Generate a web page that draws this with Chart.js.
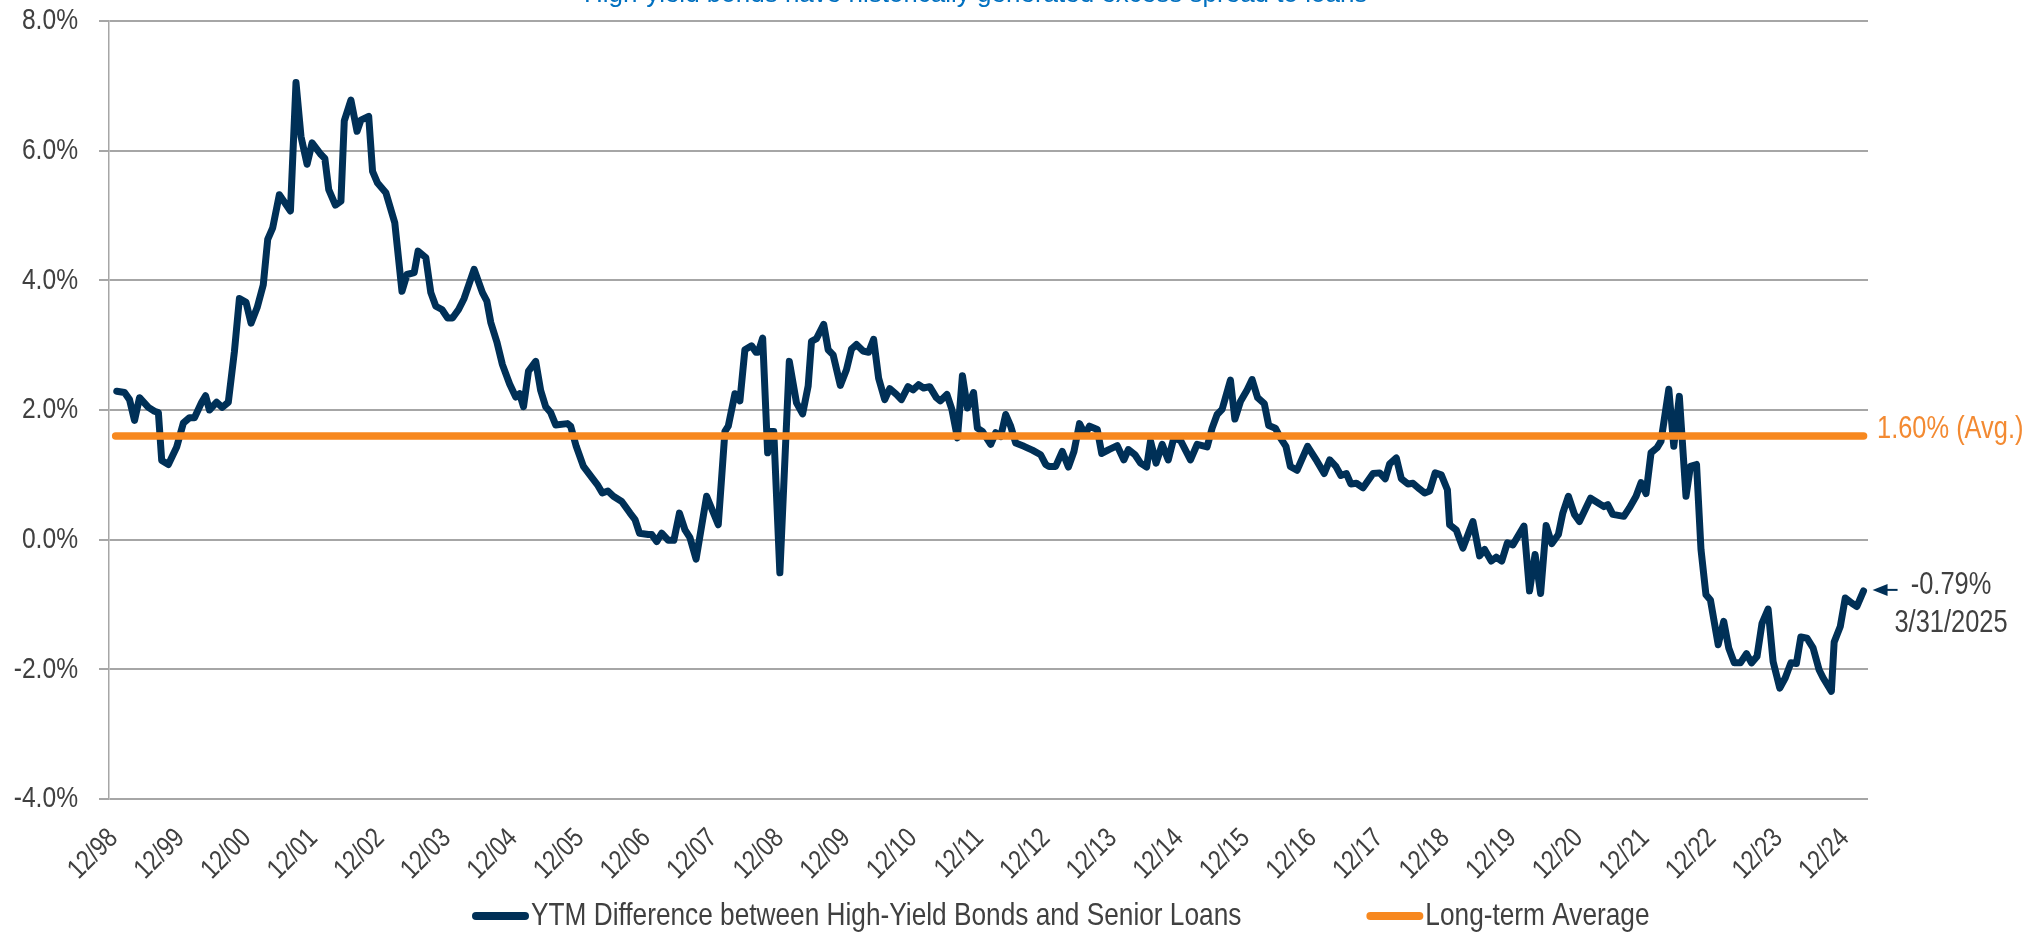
<!DOCTYPE html>
<html>
<head>
<meta charset="utf-8">
<title>YTM Difference between High-Yield Bonds and Senior Loans</title>
<script src="https://cdn.jsdelivr.net/npm/chart.js@4.4.1/dist/chart.umd.min.js"></script>
<style>
  html, body { margin:0; padding:0; background:#fff; }
  #wrap { width:2030px; height:934px; position:relative; }
</style>
</head>
<body>
<div id="wrap"><canvas id="spreadChart"></canvas></div>
<script>
// ── Data ────────────────────────────────────────────────────────────────────
// months after December 1998, and HY minus senior loan YTM (%)
const months = [
  0.2,1.6,2.5,3.4,4.3,5.9,7.0,7.7,8.3,9.5,11.0,12.2,13.3,14.2,15.5,16.2,16.9,18.2,19.2,20.3,
  21.4,22.3,23.5,24.4,25.5,26.6,27.4,28.3,29.5,31.5,32.5,33.4,34.5,35.4,37.0,37.7,38.4,39.6,40.6,41.2,
  42.4,43.5,44.2,45.6,46.3,47.2,48.7,50.3,51.6,52.5,53.8,54.5,55.9,56.8,57.7,58.8,59.8,60.7,61.8,62.8,
  64.6,66.1,66.9,67.6,68.7,69.7,71.0,72.1,72.8,73.5,74.4,75.7,76.6,77.5,78.4,79.3,81.4,82.0,83.0,84.3,
  85.9,86.8,87.7,88.7,89.7,91.2,92.7,93.6,94.4,96.0,96.6,97.5,98.4,99.6,100.6,101.6,102.6,103.5,104.6,106.5,
  108.6,109.8,110.4,111.6,112.5,113.4,114.6,115.4,115.8,116.6,117.5,117.9,118.6,119.7,121.4,122.7,123.8,124.8,125.4,126.3,
  127.6,128.4,129.3,130.6,131.7,132.6,133.5,134.7,135.7,136.6,137.5,138.6,139.5,140.7,141.6,142.8,143.7,144.7,145.6,146.7,
  147.9,148.6,149.8,150.7,151.7,152.6,153.5,154.6,155.3,156.2,157.7,158.6,159.5,160.4,161.3,162.2,163.7,165.2,166.7,167.6,
  168.2,169.4,170.6,171.7,172.7,173.7,174.7,175.5,176.9,177.7,179.0,180.5,181.7,182.5,183.7,184.7,185.8,186.5,187.5,188.6,
  189.7,190.7,191.9,193.7,194.9,196.7,197.6,198.5,199.4,200.9,201.7,202.7,203.9,204.8,205.8,207.0,207.8,209.0,209.9,210.9,
  211.7,212.9,214.8,216.5,217.8,218.8,219.9,220.8,221.8,222.6,223.6,224.8,226.6,227.8,228.8,229.6,230.8,231.7,232.9,233.8,
  235.0,235.9,236.8,237.8,238.9,240.0,240.4,241.6,242.8,244.6,245.8,246.7,247.9,248.8,249.8,250.8,251.8,253.8,254.8,255.8,
  256.8,257.8,258.8,260.0,260.8,261.8,262.9,263.8,265.8,267.1,268.2,268.9,269.8,271.8,272.8,274.0,274.9,275.8,276.7,277.8,
  278.5,279.9,280.8,281.8,283.0,283.8,284.9,285.7,286.6,287.4,288.8,289.8,290.7,291.7,292.8,293.9,294.8,295.8,296.7,297.8,
  298.7,299.9,300.9,301.9,302.9,303.7,304.8,305.9,307.0,307.7,309.2,309.7,310.8,311.7,312.9,313.8,315.0
];
const spread = [
  2.29,2.27,2.16,1.84,2.19,2.04,1.98,1.96,1.22,1.16,1.43,1.80,1.88,1.88,2.12,2.22,2.00,2.12,2.04,2.12,
  2.90,3.72,3.66,3.34,3.58,3.93,4.63,4.81,5.32,5.07,7.05,6.22,5.79,6.12,5.94,5.88,5.40,5.16,5.22,6.46,
  6.78,6.30,6.47,6.53,5.68,5.50,5.35,4.89,3.83,4.09,4.12,4.45,4.35,3.81,3.60,3.55,3.42,3.42,3.55,3.72,
  4.17,3.81,3.68,3.35,3.05,2.70,2.40,2.20,2.25,2.05,2.60,2.75,2.30,2.05,1.96,1.77,1.79,1.75,1.44,1.13,
  0.95,0.85,0.72,0.75,0.67,0.59,0.41,0.31,0.10,0.08,0.08,-0.03,0.10,-0.01,-0.01,0.41,0.15,0.03,-0.30,0.67,
  0.23,1.67,1.75,2.25,2.14,2.93,2.99,2.89,2.89,3.11,1.34,1.67,1.67,-0.51,2.75,2.11,1.94,2.37,3.06,3.10,
  3.32,2.93,2.85,2.38,2.62,2.94,3.01,2.91,2.89,3.09,2.49,2.16,2.33,2.24,2.16,2.36,2.31,2.39,2.34,2.36,
  2.19,2.14,2.24,2.01,1.57,2.53,2.03,2.27,1.72,1.67,1.47,1.65,1.59,1.93,1.75,1.49,1.44,1.38,1.31,1.16,
  1.13,1.13,1.36,1.12,1.36,1.79,1.62,1.75,1.70,1.33,1.39,1.45,1.23,1.39,1.31,1.18,1.12,1.52,1.18,1.47,
  1.23,1.57,1.53,1.23,1.47,1.43,1.72,1.93,2.01,2.46,1.86,2.13,2.31,2.47,2.19,2.10,1.76,1.72,1.57,1.44,
  1.13,1.07,1.44,1.21,1.02,1.23,1.13,0.99,1.02,0.86,0.87,0.80,1.02,1.03,0.94,1.17,1.26,0.94,0.86,0.87,
  0.78,0.72,0.75,1.03,1.00,0.77,0.23,0.15,-0.13,0.28,-0.25,-0.15,-0.33,-0.27,-0.33,-0.05,-0.08,0.21,-0.79,-0.23,
  -0.83,0.22,-0.06,0.08,0.41,0.67,0.39,0.28,0.64,0.57,0.51,0.54,0.39,0.36,0.49,0.67,0.88,0.71,1.34,1.42,
  1.52,2.32,1.44,2.21,0.67,1.13,1.16,-0.15,-0.85,-0.93,-1.62,-1.26,-1.67,-1.90,-1.90,-1.76,-1.90,-1.80,-1.29,-1.07,
  -1.88,-2.29,-2.13,-1.90,-1.91,-1.50,-1.52,-1.67,-2.01,-2.13,-2.34,-1.58,-1.34,-0.90,-0.98,-1.03,-0.79
];

// long-term average, drawn across the full period
const avgValue = 1.60;
const avgSpan = [0, 315];

// year-end ticks (months after 12/98) and their labels
const tickMonths = [0,12,24,36,48,60,72,84,96,108,120,132,144,156,168,180,192,204,216,228,240,252,264,276,288,300,312];
const tickLabels = ['12/98','12/99','12/00','12/01','12/02','12/03','12/04','12/05','12/06','12/07','12/08','12/09','12/10',
  '12/11','12/12','12/13','12/14','12/15','12/16','12/17','12/18','12/19','12/20','12/21','12/22','12/23','12/24'];
const yTicks = [8, 6, 4, 2, 0, -2, -4];

const seriesNames = ['YTM Difference between High-Yield Bonds and Senior Loans', 'Long-term Average'];
const avgLabel = '1.60% (Avg.)';
const lastLabel = '-0.79%';
const lastDate = '3/31/2025';
const titleText = 'High-yield bonds have historically generated excess spread to loans';

// ── Styles ──────────────────────────────────────────────────────────────────
const NAVY = '#003057';
const ORANGE = '#F7881F';
const ORANGE_TXT = '#F38A32';
const GREY_TXT = '#404040';
const GRID = '#A6A6A6';
const SANS = "'Liberation Sans', Arial, sans-serif";
const SQUEEZE = 0.82;   // narrow face: regular sans compressed horizontally

// text in a condensed look; x/y is the anchor, rot in radians
function narrowText(ctx, text, x, y, size, color, align = 'left', rot = 0) {
  ctx.save();
  ctx.translate(x, y);
  if (rot) ctx.rotate(rot);
  ctx.scale(SQUEEZE, 1);
  ctx.font = `${size}px ${SANS}`;
  ctx.fillStyle = color;
  ctx.textAlign = align;
  ctx.textBaseline = 'middle';
  ctx.fillText(text, 0, 0);
  const w = ctx.measureText(text).width * SQUEEZE;
  ctx.restore();
  return w;
}

// ── Overlay: axis labels, avg label, last-value callout, legend, title ──────
const overlayPlugin = {
  id: 'overlay',
  afterDatasetsDraw(chart) {
    const { ctx, scales: { x, y } } = chart;

    // axis tick labels
    yTicks.forEach(v => narrowText(ctx, v.toFixed(1) + '%', 78, y.getPixelForValue(v), 30, GREY_TXT, 'right'));
    tickMonths.forEach((m, i) =>
      narrowText(ctx, tickLabels[i], x.getPixelForValue(m) - 2, y.bottom + 35, 28, GREY_TXT, 'right', -Math.PI / 4));

    // average label next to the orange line
    narrowText(ctx, avgLabel, x.right + 9, y.getPixelForValue(avgValue) - 6, 31, ORANGE_TXT);

    // arrow pointing at the last observation
    const lx = x.getPixelForValue(months[months.length - 1]);
    const ly = y.getPixelForValue(spread[spread.length - 1]);
    const tip = lx + 9, ay = ly - 1;
    ctx.save();
    ctx.fillStyle = NAVY;
    ctx.beginPath();
    ctx.moveTo(tip, ay);
    ctx.lineTo(tip + 15, ay - 6);
    ctx.lineTo(tip + 15, ay + 6);
    ctx.closePath();
    ctx.fill();
    ctx.strokeStyle = NAVY;
    ctx.lineWidth = 2;
    ctx.beginPath();
    ctx.moveTo(tip + 14, ay);
    ctx.lineTo(tip + 25, ay);
    ctx.stroke();
    ctx.restore();

    narrowText(ctx, lastLabel, 1951, ly - 5, 31, GREY_TXT, 'center');
    narrowText(ctx, lastDate, 1951, ly + 33, 31, GREY_TXT, 'center');
  },
  afterDraw(chart) {
    const { ctx } = chart;

    // title, mostly above the canvas edge
    ctx.save();
    ctx.font = `26px ${SANS}`;
    ctx.fillStyle = '#0070C0';
    ctx.textAlign = 'left';
    ctx.textBaseline = 'alphabetic';
    ctx.fillText(titleText, 584, 2);
    ctx.restore();

    // legend
    const colors = [NAVY, ORANGE];
    const ly = 916;
    let lx = 472;
    seriesNames.forEach((name, i) => {
      ctx.save();
      ctx.fillStyle = colors[i];
      ctx.beginPath();
      ctx.roundRect(lx, ly - 4, 57, 8, 4);
      ctx.fill();
      ctx.restore();
      lx += 59;
      lx += narrowText(ctx, name, lx, ly, 32, GREY_TXT) + 125;
    });
  }
};

// ── Chart ───────────────────────────────────────────────────────────────────
new Chart(document.getElementById('spreadChart'), {
  type: 'line',
  data: {
    datasets: [
      {
        label: seriesNames[0],
        data: months.map((m, i) => ({ x: m, y: spread[i] })),
        borderColor: NAVY, borderWidth: 7,
        borderJoinStyle: 'round', borderCapStyle: 'round',
        pointRadius: 0, tension: 0, order: 2,
      },
      {
        label: seriesNames[1],
        data: avgSpan.map(m => ({ x: m, y: avgValue })),
        borderColor: ORANGE, borderWidth: 7.5,
        borderCapStyle: 'round',
        pointRadius: 0, order: 1,
      },
    ]
  },
  options: {
    responsive: true, maintainAspectRatio: false, animation: false,
    layout: { padding: { left: 0, right: 162, top: 21, bottom: 0 } },
    plugins: { legend: { display: false }, tooltip: { enabled: false } },
    scales: {
      x: {
        type: 'linear', min: -1.2, max: 315.8,
        grid: { display: false }, border: { display: false },
        afterBuildTicks: s => { s.ticks = tickMonths.map(v => ({ value: v })); },
        afterFit: s => { s.height = 135; },
        ticks: { display: false },
      },
      y: {
        min: -4, max: 8,
        afterBuildTicks: s => { s.ticks = yTicks.map(v => ({ value: v })); },
        afterFit: s => { s.width = 109; },
        grid: { color: GRID, lineWidth: 2, tickLength: 10, drawTicks: true },
        border: { display: true, color: GRID, width: 1.5 },
        ticks: { display: false },
      },
    },
  },
  plugins: [overlayPlugin],
});
</script>
</body>
</html>
